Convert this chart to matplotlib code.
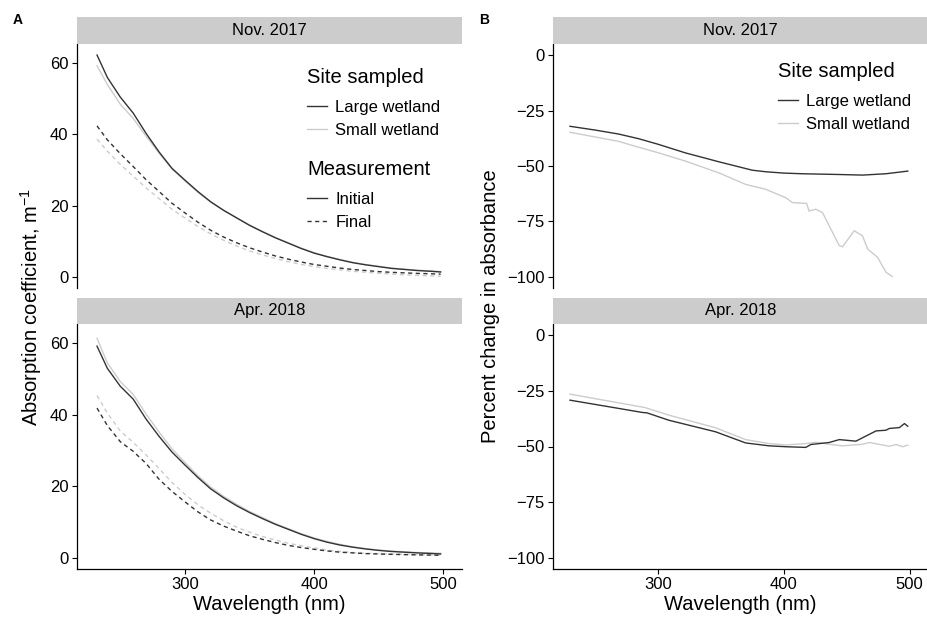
import numpy as np
import matplotlib
matplotlib.use('Agg')
import matplotlib.pyplot as plt
from matplotlib.lines import Line2D

plt.rcParams['font.family'] = ['Liberation Sans', 'DejaVu Sans']
plt.rcParams['mathtext.default'] = 'regular'

# ---- panel A: absorption spectra (m^-1) ----
wl_a = [232, 240, 250, 260, 270, 280, 290, 300, 310, 320, 330, 340, 350, 360, 370, 380, 390,
        400, 410, 420, 430, 440, 450, 460, 470, 480, 490, 498]

nov_large_init = [62.3, 56.0, 50.5, 46.0, 40.3, 35.1, 30.5, 27.2, 24.0, 21.1, 18.7, 16.6, 14.5, 12.7, 11.0, 9.5,
                  8.0, 6.7, 5.7, 4.8, 4.0, 3.4, 2.9, 2.4, 2.1, 1.8, 1.6, 1.4]
nov_small_init = [59.3, 54.0, 48.5, 44.5, 39.5, 34.8, 30.3, 27.0, 23.8, 21.0, 18.7, 16.6, 14.6, 12.8, 11.1, 9.6,
                  8.1, 6.8, 5.8, 4.9, 4.1, 3.5, 3.0, 2.5, 2.2, 1.9, 1.7, 1.5]
nov_large_final = [42.4, 38.5, 34.6, 31.0, 27.3, 24.0, 20.7, 18.0, 15.4, 13.1, 11.2, 9.6, 8.2, 7.0, 5.9, 5.0,
                   4.2, 3.5, 3.0, 2.5, 2.1, 1.8, 1.5, 1.3, 1.15, 1.0, 0.9, 0.8]
nov_small_final = [38.7, 35.3, 31.6, 28.3, 25.0, 22.0, 19.0, 16.6, 14.2, 12.1, 10.3, 8.7, 7.3, 6.2, 5.2, 4.3,
                   3.5, 2.9, 2.4, 2.0, 1.6, 1.3, 1.05, 0.8, 0.6, 0.45, 0.3, 0.2]

apr_large_init = [59.2, 53.0, 48.0, 44.4, 38.8, 34.0, 29.6, 26.0, 22.5, 19.3, 16.8, 14.6, 12.7, 11.0, 9.4, 8.0,
                  6.6, 5.4, 4.4, 3.6, 3.0, 2.5, 2.1, 1.8, 1.6, 1.4, 1.25, 1.1]
apr_small_init = [61.4, 54.5, 49.3, 45.7, 40.2, 35.2, 30.5, 26.7, 23.0, 19.8, 17.2, 15.0, 13.0, 11.3, 9.6, 8.2,
                  6.8, 5.6, 4.6, 3.8, 3.1, 2.6, 2.2, 1.9, 1.7, 1.5, 1.4, 1.3]
apr_large_final = [41.9, 37.0, 32.5, 29.8, 26.4, 22.0, 18.6, 15.7, 12.9, 10.6, 8.9, 7.5, 6.2, 5.2, 4.3, 3.5,
                   2.9, 2.4, 1.95, 1.6, 1.4, 1.2, 1.1, 1.0, 0.92, 0.85, 0.8, 0.75]
apr_small_final = [45.4, 40.5, 35.5, 32.3, 28.8, 25.0, 21.1, 17.8, 14.9, 12.5, 10.4, 8.6, 7.2, 6.0, 5.0, 4.1,
                   3.4, 2.8, 2.2, 1.8, 1.5, 1.3, 1.2, 1.1, 1.0, 0.9, 0.85, 0.8]

# ---- panel B: percent change in absorbance ----
nov_large_wl = [230, 250, 268.7, 284.6, 300, 321.8, 348.3, 374.9, 385.6, 400, 414.8, 441.3, 462.5, 481, 498.4]
nov_large_pct = [-32.1, -33.8, -35.6, -37.7, -40.2, -44.1, -48.1, -51.9, -52.6, -53.2, -53.5, -53.8, -54.1, -53.5, -52.3]
nov_small_wl = [230, 268.7, 281.9, 300, 321.8, 348.3, 369.6, 385.5, 401.5, 406.8, 416.1, 418, 420, 425.4,
                430.7, 436, 444, 446.6, 455.9, 462.5, 466.5, 474.5, 481.1, 485.9]
nov_small_pct = [-34.8, -38.9, -41.1, -44.0, -47.8, -53.1, -58.3, -60.5, -64.3, -66.5, -66.8, -66.8, -70.3, -69.5,
                 -71.0, -77.0, -85.9, -86.4, -79.2, -81.5, -87.4, -91.2, -97.9, -99.7]

apr_large_wl = [230, 268.7, 287.3, 291.2, 308.5, 345.7, 369.6, 388.2, 401.5, 417.4, 421.4, 436, 444,
                457.2, 473.2, 481.1, 483.8, 491.8, 495.8, 498.4]
apr_large_pct = [-29.2, -32.9, -34.7, -34.9, -38.2, -43.4, -48.4, -49.7, -50.1, -50.4, -49.1, -48.2, -46.9,
                 -47.6, -43.0, -42.7, -41.9, -41.5, -39.7, -40.9]
apr_small_wl = [230, 268.7, 289.5, 308.5, 345.7, 369.6, 388.2, 401.5, 417.4, 425.4, 436, 446.6, 462.5,
                467.9, 483.8, 489.1, 494.4, 498.4]
apr_small_pct = [-26.5, -30.4, -32.5, -35.9, -41.6, -46.9, -48.7, -49.3, -48.7, -48.1, -49.0, -49.7, -49.0,
                 -48.2, -49.9, -49.1, -50.1, -49.4]

DARK = '#333333'
LIGHT = '#cccccc'
STRIP = '#cccccc'
LW = 1.0
DASH = (0, (3, 2.5))

W, H = 928, 620
fig = plt.figure(figsize=(W / 100, H / 100), dpi=100)


def box(x0, y0, x1, y1):
    # pixel box (top-left origin) -> figure fraction
    return [x0 / W, 1 - y1 / H, (x1 - x0) / W, (y1 - y0) / H]


def panel(x0, x1, y_strip, y0, y1, title, bottom):
    ax = fig.add_axes(box(x0, y0, x1, y1))
    st = fig.add_axes(box(x0, y_strip, x1, y0))
    st.set_facecolor(STRIP)
    st.set_xticks([])
    st.set_yticks([])
    for s in st.spines.values():
        s.set_visible(False)
    st.text(0.5, 0.5, title, ha='center', va='center', fontsize=12, transform=st.transAxes)
    for s in ['top', 'right']:
        ax.spines[s].set_visible(False)
    ax.spines['left'].set_linewidth(0.9)
    ax.spines['bottom'].set_linewidth(0.9)
    if not bottom:
        ax.spines['bottom'].set_visible(False)
        ax.tick_params(axis='x', bottom=False, labelbottom=False)
    ax.tick_params(labelsize=12, length=3.6, width=0.8, pad=2.5, colors='black')
    ax.set_xlim(216.5, 514.5)
    ax.set_xticks([300, 400, 500])
    return ax


axA1 = panel(77, 462, 17, 44, 288, 'Nov. 2017', False)
axA2 = panel(77, 462, 298, 324, 569, 'Apr. 2018', True)
axB1 = panel(553, 928, 17, 44, 288, 'Nov. 2017', False)
axB2 = panel(553, 928, 298, 324, 569, 'Apr. 2018', True)

for ax, li, si, lf, sf in [(axA1, nov_large_init, nov_small_init, nov_large_final, nov_small_final),
                           (axA2, apr_large_init, apr_small_init, apr_large_final, apr_small_final)]:
    ax.plot(wl_a, sf, color=LIGHT, lw=LW, ls=DASH)
    ax.plot(wl_a, lf, color=DARK, lw=LW, ls=DASH)
    ax.plot(wl_a, si, color=LIGHT, lw=LW)
    ax.plot(wl_a, li, color=DARK, lw=LW)
    ax.set_ylim(-3.1, 65.4)
    ax.set_yticks([0, 20, 40, 60])

axB1.plot(nov_small_wl, nov_small_pct, color=LIGHT, lw=LW)
axB1.plot(nov_large_wl, nov_large_pct, color=DARK, lw=LW)
axB2.plot(apr_small_wl, apr_small_pct, color=LIGHT, lw=LW)
axB2.plot(apr_large_wl, apr_large_pct, color=DARK, lw=LW)
for ax in (axB1, axB2):
    ax.set_ylim(-105, 5)
    ax.set_yticks([0, -25, -50, -75, -100])

site_h = [Line2D([], [], color=DARK, lw=LW), Line2D([], [], color=LIGHT, lw=LW)]
site_l = ['Large wetland', 'Small wetland']
meas_h = [Line2D([], [], color=DARK, lw=LW), Line2D([], [], color=DARK, lw=LW, ls=DASH)]
meas_l = ['Initial', 'Final']


def add_legend(handles, labels, title, x, y):
    leg = fig.legend(handles, labels, title=title, loc='upper left',
                     bbox_to_anchor=(x / W, 1 - y / H), bbox_transform=fig.transFigure,
                     frameon=False, fontsize=12, title_fontsize=14.5, handlelength=1.2,
                     handletextpad=0.5, labelspacing=0.44, borderpad=0, borderaxespad=0,
                     alignment='left')
    leg._legend_box.sep = 9.5
    return leg


add_legend(site_h, site_l, 'Site sampled', 307, 68)
add_legend(meas_h, meas_l, 'Measurement', 307, 160)
add_legend(site_h, site_l, 'Site sampled', 778, 62)

fig.text(31 / W, 1 - 306.5 / H, 'Absorption coefficient, m$^{-1}$', rotation=90,
         ha='center', va='center', fontsize=14.5)
fig.text(490 / W, 1 - 306.5 / H, 'Percent change in absorbance', rotation=90,
         ha='center', va='center', fontsize=14.5)
fig.text(269.5 / W, 1 - 605 / H, 'Wavelength (nm)', ha='center', va='center', fontsize=14.5)
fig.text(740.5 / W, 1 - 605 / H, 'Wavelength (nm)', ha='center', va='center', fontsize=14.5)
fig.text(18 / W, 1 - 20 / H, 'A', ha='center', va='center', fontsize=10, fontweight='bold')
fig.text(484 / W, 1 - 20 / H, 'B', ha='center', va='center', fontsize=10, fontweight='bold')

fig.savefig('out.png', dpi=100)
